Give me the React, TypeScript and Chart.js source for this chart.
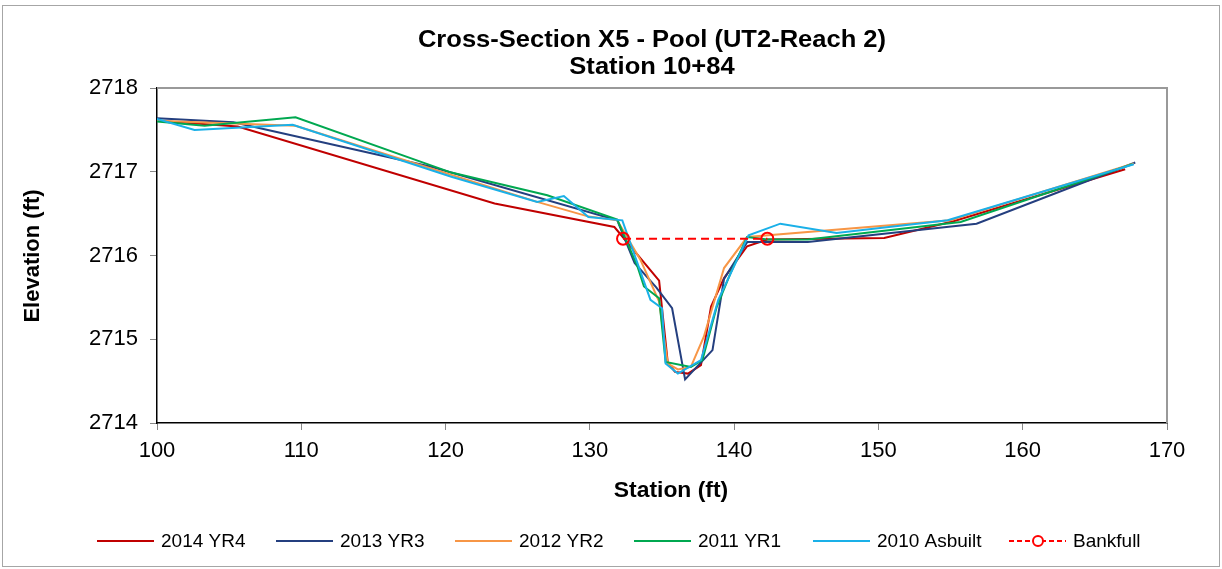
import React, { useEffect, useRef } from "react";
import { Chart, registerables } from "chart.js";

Chart.register(...registerables);

// ---- Data (station ft, elevation ft) ----
const st2014 = [100, 105.6, 123.4, 131.7, 134.8, 135.4, 135.9, 136.8, 137.7, 138.4, 139.3, 140.9, 142.3, 150.4, 155.2, 167.1];
const el2014 = [2717.61, 2717.54, 2716.62, 2716.34, 2715.7, 2714.72, 2714.61, 2714.59, 2714.69, 2715.39, 2715.73, 2716.11, 2716.19, 2716.21, 2716.41, 2717.03];

const st2013 = [100, 105.3, 119, 131.9, 133.1, 134.6, 135.7, 136.6, 138.5, 139.3, 140.9, 145.1, 156.8, 167.8];
const el2013 = [2717.64, 2717.59, 2717.06, 2716.42, 2715.91, 2715.62, 2715.37, 2714.52, 2714.87, 2715.72, 2716.16, 2716.16, 2716.38, 2717.11];

const st2012 = [100, 109.6, 126.35, 129.8, 131.9, 133.5, 134.8, 135.4, 136.1, 137.0, 137.9, 139.3, 140.9, 155.0, 167.7];
const el2012 = [2717.61, 2717.55, 2716.64, 2716.47, 2716.42, 2715.95, 2715.45, 2714.71, 2714.64, 2714.67, 2715.03, 2715.85, 2716.22, 2716.42, 2717.1];

const st2011 = [100, 103.3, 109.6, 120.4, 127.05, 131.9, 133.3, 133.75, 134.8, 135.25, 137.0, 137.8, 138.8, 139.75, 140.9, 142.3, 145.1, 155.7, 167.6];
const el2011 = [2717.6, 2717.55, 2717.65, 2716.99, 2716.72, 2716.43, 2715.87, 2715.63, 2715.49, 2714.73, 2714.67, 2714.75, 2715.39, 2715.79, 2716.22, 2716.19, 2716.19, 2716.4, 2717.09];

const st2010 = [100, 102.6, 109.4, 120.4, 126.35, 128.2, 129.9, 132.25, 134.2, 135.0, 135.25, 136.1, 137.7, 138.9, 141.0, 143.2, 147.1, 154.8, 167.7];
const el2010 = [2717.63, 2717.5, 2717.56, 2716.94, 2716.64, 2716.71, 2716.46, 2716.42, 2715.47, 2715.37, 2714.71, 2714.59, 2714.75, 2715.47, 2716.24, 2716.38, 2716.27, 2716.42, 2717.09];

const stBankfull = [132.3, 142.3];
const elBankfull = [2716.2, 2716.2];

const seriesNames = ["2014 YR4", "2013 YR3", "2012 YR2", "2011 YR1", "2010 Asbuilt", "Bankfull"];
const seriesColors = ["#C00000", "#243F7F", "#F79646", "#00A850", "#1AB0E8", "#FF0000"];

const titleLines = ["Cross-Section X5 - Pool (UT2-Reach 2)", "Station 10+84"];
const xAxisTitle = "Station (ft)";
const yAxisTitle = "Elevation (ft)";
const xMin = 100, xMax = 170, xStep = 10;
const yMin = 2714, yMax = 2718, yStep = 1;

const FONT = "'Liberation Sans', Arial, Helvetica, sans-serif";

function pts(s: number[], e: number[]) {
  return s.map((x, i) => ({ x, y: e[i] }));
}

const decorPlugin = {
  id: "decor",
  afterDraw(chart: any) {
    const ctx = chart.ctx as CanvasRenderingContext2D;
    const a = chart.chartArea;
    ctx.save();
    // outer frame
    ctx.strokeStyle = "#A6A6A6";
    ctx.lineWidth = 1;
    ctx.strokeRect(2.5, 5.5, 1217, 561);
    // plot top / right border
    ctx.strokeStyle = "#999999";
    ctx.lineWidth = 2;
    ctx.beginPath();
    ctx.moveTo(a.left, a.top);
    ctx.lineTo(a.right, a.top);
    ctx.lineTo(a.right, a.bottom);
    ctx.stroke();

    ctx.fillStyle = "#000";
    // title
    ctx.font = `bold 23px ${FONT}`;
    ctx.textAlign = "center";
    ctx.textBaseline = "alphabetic";
    const drawScaled = (t: string, x: number, y: number, sx: number) => {
      ctx.save();
      ctx.translate(x, y);
      ctx.scale(sx, 1);
      ctx.fillText(t, 0, 0);
      ctx.restore();
    };
    drawScaled(titleLines[0], 652, 47, 1.11);
    drawScaled(titleLines[1], 652, 74, 1.11);

    // x title
    ctx.font = `bold 22px ${FONT}`;
    drawScaled(xAxisTitle, 671, 497, 1.04);

    // y title
    ctx.save();
    ctx.translate(39, 256);
    ctx.rotate(-Math.PI / 2);
    ctx.font = `bold 22px ${FONT}`;
    ctx.textAlign = "center";
    ctx.fillText(yAxisTitle, 0, 0);
    ctx.restore();

    // legend
    const legendX = [97, 276, 455, 634, 813, 1009];
    const ly = 541;
    ctx.font = `19px ${FONT}`;
    ctx.textAlign = "left";
    ctx.textBaseline = "middle";
    seriesNames.forEach((name, i) => {
      const x0 = legendX[i];
      ctx.strokeStyle = seriesColors[i];
      ctx.lineWidth = 2;
      ctx.beginPath();
      if (i === 5) ctx.setLineDash([5, 3]);
      ctx.moveTo(x0, ly);
      ctx.lineTo(x0 + 57, ly);
      ctx.stroke();
      ctx.setLineDash([]);
      if (i === 5) {
        ctx.beginPath();
        ctx.arc(x0 + 29, ly, 5, 0, Math.PI * 2);
        ctx.fillStyle = "#fff";
        ctx.fill();
        ctx.stroke();
      }
      ctx.fillStyle = "#000";
      ctx.fillText(name, x0 + 64, ly + 1);
    });
    ctx.restore();
  },
};

export default function App() {
  const ref = useRef<HTMLCanvasElement | null>(null);
  useEffect(() => {
    if (!ref.current) return;
    const lineDs = (label: string, data: any, color: string) => ({
      label,
      data,
      borderColor: color,
      backgroundColor: color,
      borderWidth: 2,
      pointRadius: 0,
      tension: 0,
      fill: false,
    });
    const chart = new Chart(ref.current, {
      type: "line",
      data: {
        datasets: [
          {
            label: seriesNames[5],
            data: pts(stBankfull, elBankfull),
            borderColor: seriesColors[5],
            backgroundColor: "rgba(0,0,0,0)",
            borderWidth: 2.2,
            borderDash: [8, 5],
            pointRadius: 6,
            pointBorderWidth: 2,
            pointBorderColor: seriesColors[5],
            pointBackgroundColor: "rgba(0,0,0,0)",
            tension: 0,
            fill: false,
          } as any,
          lineDs(seriesNames[4], pts(st2010, el2010), seriesColors[4]),
          lineDs(seriesNames[3], pts(st2011, el2011), seriesColors[3]),
          lineDs(seriesNames[2], pts(st2012, el2012), seriesColors[2]),
          lineDs(seriesNames[1], pts(st2013, el2013), seriesColors[1]),
          lineDs(seriesNames[0], pts(st2014, el2014), seriesColors[0]),
        ],
      },
      options: {
        animation: false,
        responsive: false,
        devicePixelRatio: 1,
        layout: { padding: { left: 0, right: 55, top: 88, bottom: 0 } },
        plugins: {
          legend: { display: false },
          title: { display: false },
          tooltip: { enabled: false },
        },
        scales: {
          x: {
            type: "linear",
            min: xMin,
            max: xMax,
            ticks: {
              stepSize: xStep,
              padding: 8,
              color: "#000",
              font: { family: FONT, size: 22 },
              callback: (v: any) => String(v),
            },
            grid: { drawOnChartArea: false, drawTicks: true, tickLength: 7, color: "#888" },
            border: { display: true, color: "#000", width: 1.5 },
            afterFit: (s: any) => {
              s.height = 146;
            },
          },
          y: {
            type: "linear",
            min: yMin,
            max: yMax,
            ticks: {
              stepSize: yStep,
              padding: 12,
              color: "#000",
              font: { family: FONT, size: 22 },
              callback: (v: any) => String(v),
            },
            grid: { drawOnChartArea: false, drawTicks: true, tickLength: 7, color: "#888" },
            border: { display: true, color: "#000", width: 1.5 },
            afterFit: (s: any) => {
              s.width = 157;
            },
          },
        },
      } as any,
      plugins: [decorPlugin],
    });
    return () => chart.destroy();
  }, []);
  return (
    <div style={{ position: "fixed", left: 0, top: 0, width: 1222, height: 569, background: "#fff" }}>
      <canvas ref={ref} width={1222} height={569} style={{ display: "block", width: 1222, height: 569 }} />
    </div>
  );
}
